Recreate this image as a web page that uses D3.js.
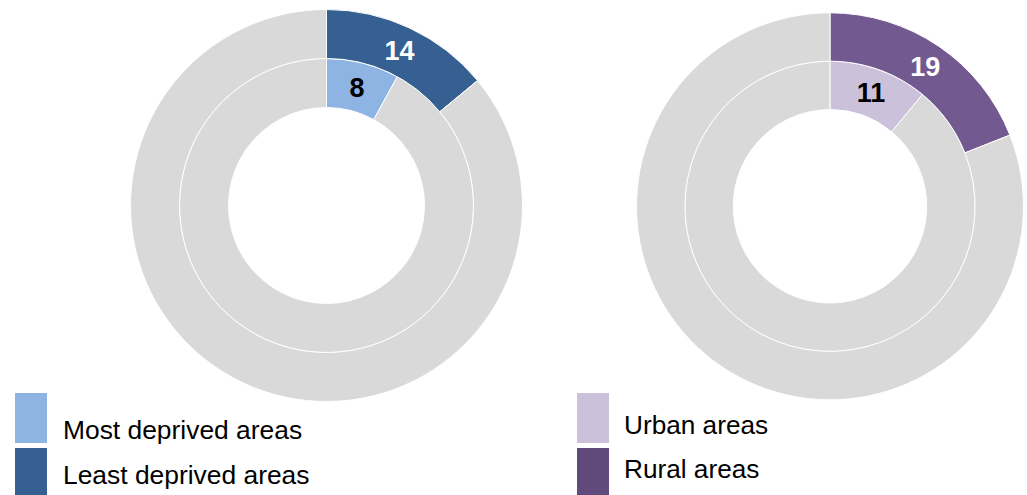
<!DOCTYPE html>
<html>
  <head>
    <meta charset="utf-8">
    <title>Deprivation and rurality donuts</title>
    <style>
      body { margin: 0; background: #fff; }
      svg { display: block; font-family: "Liberation Sans", Arial, sans-serif; }
    </style>
  </head>
  <body>
    <svg id="chart" width="1027" height="495"></svg>
    <script src="https://d3js.org/d3.v7.min.js"></script>
    <script>
      // values are percentages, rest of the ring is grey
      var deprivationLabels = ["Most deprived areas", "Least deprived areas"]
      var deprivationValues = [8, 14]
      var deprivationColors = ["#8eb4e3", "#366092"]
      var deprivationSwatch = ["#8eb4e3", "#366092"]

      var areaLabels = ["Urban areas", "Rural areas"]
      var areaValues = [11, 19]
      var areaColors = ["#ccc1da", "#725990"]
      var areaSwatch = ["#ccc1da", "#604a7b"]

      var labelColors = ["#000", "#fff"]
      var grey = "#d9d9d9"

      const svg = d3.select("#chart")

      const pie = d3.pie().sort(null).value(d => d)

      function donut(cx, cy, r, values, colors) {
        const g = svg.append("g").attr("transform", `translate(${cx},${cy})`)
        // inner ring first (index 0), then outer ring
        const rings = [[r * 0.5, r * 0.75], [r * 0.75, r]]

        values.forEach((v, i) => {
          const arc = d3.arc().innerRadius(rings[i][0]).outerRadius(rings[i][1])
          const slices = pie([v, 100 - v])
          g.append("g").selectAll("path")
            .data(slices)
            .join("path")
              .attr("d", arc)
              .attr("fill", (d, j) => j == 0 ? colors[i] : grey)
              .attr("stroke", "#fff")
              .attr("stroke-width", 1)

          g.append("text")
            .attr("transform", `translate(${arc.centroid(slices[0])})`)
            .attr("text-anchor", "middle")
            .attr("dy", "0.36em")
            .attr("font-size", 27)
            .attr("font-weight", "bold")
            .attr("fill", labelColors[i])
            .text(v)
        })
      }

      function legend(x, ys, textX, baselines, labels, colors, fs) {
        const g = svg.append("g")
        labels.forEach((l, i) => {
          g.append("rect")
            .attr("x", x).attr("y", ys[i])
            .attr("width", 32).attr("height", 50)
            .attr("fill", colors[i])
          g.append("text")
            .attr("x", textX).attr("y", baselines[i])
            .attr("font-size", fs)
            .attr("fill", "#000")
            .text(l)
        })
      }

      donut(326.5, 205.5, 196, deprivationValues, deprivationColors)
      donut(830, 206.3, 193.5, areaValues, areaColors)

      legend(15, [393, 448], 63, [439, 484], deprivationLabels, deprivationSwatch, 26.4)
      legend(577, [393, 448], 624, [434, 478], areaLabels, areaSwatch, 26.2)
    </script>
  </body>
</html>
